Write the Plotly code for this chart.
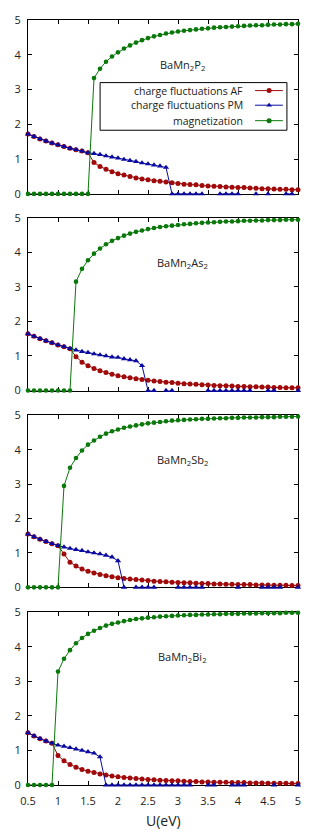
import plotly.graph_objects as go

U = [0.5, 0.6, 0.7, 0.8, 0.9, 1.0, 1.1, 1.2, 1.3, 1.4, 1.5, 1.6, 1.7, 1.8, 1.9, 2.0,
     2.1, 2.2, 2.3, 2.4, 2.5, 2.6, 2.7, 2.8, 2.9, 3.0, 3.1, 3.2, 3.3, 3.4, 3.5, 3.6,
     3.7, 3.8, 3.9, 4.0, 4.1, 4.2, 4.3, 4.4, 4.5, 4.6, 4.7, 4.8, 4.9, 5.0]

N = None

# ---- BaMn2P2 ----
p2_af = [1.72, 1.65, 1.58, 1.52, 1.46, 1.41, 1.36, 1.31, 1.27, 1.23, 1.18, 0.90, 0.79, 0.71, 0.64, 0.58,
         0.54, 0.50, 0.46, 0.43, 0.41, 0.38, 0.36, 0.34, 0.32, 0.30, 0.28, 0.27, 0.26, 0.24, 0.23, 0.22,
         0.21, 0.20, 0.19, 0.18, 0.18, 0.17, 0.16, 0.15, 0.15, 0.14, 0.13, 0.13, 0.12, 0.12]
p2_pm = [1.72, 1.65, 1.58, 1.52, 1.46, 1.41, 1.36, 1.31, 1.27, 1.23, 1.18, 1.16, 1.13, 1.09, 1.06, 1.03,
         0.99, 0.96, 0.93, 0.89, 0.86, 0.83, 0.80, 0.76, 0, 0, 0, 0, 0, 0, N, N,
         0, 0, 0, 0, N, N, 0, N, 0, N, N, 0, 0, N]
p2_mag = [0, 0, 0, 0, 0, 0, 0, 0, 0, 0, 0, 3.33, 3.60, 3.80, 3.95, 4.07,
          4.18, 4.27, 4.35, 4.42, 4.48, 4.53, 4.57, 4.61, 4.64, 4.67, 4.69, 4.71, 4.73, 4.75, 4.76, 4.78,
          4.79, 4.80, 4.81, 4.82, 4.83, 4.84, 4.85, 4.85, 4.86, 4.87, 4.87, 4.88, 4.88, 4.89]

# ---- BaMn2As2 ----
as2_af = [1.64, 1.57, 1.50, 1.44, 1.38, 1.32, 1.27, 1.21, 0.98, 0.82, 0.72, 0.64, 0.57, 0.52, 0.47, 0.43,
          0.40, 0.37, 0.34, 0.32, 0.30, 0.28, 0.26, 0.24, 0.23, 0.21, 0.20, 0.19, 0.18, 0.17, 0.16, 0.15,
          0.14, 0.14, 0.13, 0.12, 0.12, 0.11, 0.11, 0.10, 0.10, 0.09, 0.09, 0.08, 0.08, 0.08]
as2_pm = [1.64, 1.57, 1.50, 1.44, 1.38, 1.32, 1.27, 1.21, 1.17, 1.13, 1.10, 1.06, 1.03, 1.00, 0.97, 0.96,
          0.92, 0.89, 0.86, 0.72, 0, 0, N, 0, 0, N, N, N, N, N, 0, 0,
          0, 0, 0, 0, 0, 0, N, N, 0, 0, N, N, N, 0]
as2_mag = [0, 0, 0, 0, 0, 0, 0, 0, 3.15, 3.52, 3.77, 3.96, 4.11, 4.23, 4.33, 4.41,
           4.48, 4.54, 4.59, 4.63, 4.67, 4.70, 4.73, 4.75, 4.77, 4.79, 4.81, 4.82, 4.84, 4.85, 4.86, 4.87,
           4.88, 4.89, 4.89, 4.90, 4.91, 4.91, 4.92, 4.92, 4.93, 4.93, 4.93, 4.94, 4.94, 4.94]

# ---- BaMn2Sb2 ----
sb2_af = [1.55, 1.47, 1.40, 1.33, 1.27, 1.21, 0.97, 0.73, 0.62, 0.53, 0.47, 0.42, 0.37, 0.34, 0.31, 0.28,
          0.26, 0.24, 0.23, 0.21, 0.20, 0.18, 0.17, 0.16, 0.15, 0.14, 0.13, 0.13, 0.12, 0.11, 0.11, 0.10,
          0.10, 0.09, 0.09, 0.08, 0.08, 0.08, 0.07, 0.07, 0.07, 0.06, 0.06, 0.06, 0.05, 0.05]
sb2_pm = [1.55, 1.47, 1.40, 1.33, 1.27, 1.21, 1.17, 1.13, 1.10, 1.07, 1.03, 1.00, 0.97, 0.93, 0.88, 0.77,
          0, N, 0, 0, 0, 0, N, N, N, 0, 0, 0, 0, 0, N, N,
          N, N, N, 0, N, N, N, 0, 0, 0, 0, N, N, 0]
sb2_mag = [0, 0, 0, 0, 0, 0, 2.95, 3.48, 3.76, 3.98, 4.15, 4.27, 4.38, 4.47, 4.54, 4.59,
           4.64, 4.68, 4.71, 4.74, 4.77, 4.79, 4.81, 4.83, 4.85, 4.86, 4.87, 4.88, 4.89, 4.90, 4.90, 4.91,
           4.92, 4.92, 4.93, 4.93, 4.94, 4.94, 4.94, 4.95, 4.95, 4.95, 4.96, 4.96, 4.96, 4.97]

# ---- BaMn2Bi2 ----
bi2_af = [1.51, 1.42, 1.34, 1.27, 1.21, 0.85, 0.70, 0.59, 0.51, 0.45, 0.40, 0.36, 0.32, 0.29, 0.26, 0.24,
          0.22, 0.20, 0.19, 0.17, 0.16, 0.15, 0.14, 0.13, 0.12, 0.12, 0.11, 0.10, 0.10, 0.09, 0.09, 0.08,
          0.08, 0.08, 0.07, 0.07, 0.07, 0.06, 0.06, 0.06, 0.05, 0.05, 0.05, 0.05, 0.04, 0.04]
bi2_pm = [1.51, 1.42, 1.34, 1.27, 1.21, 1.15, 1.12, 1.08, 1.04, 1.00, 0.96, 0.92, 0.81, 0, 0, 0,
          0, 0, 0, 0, 0, 0, 0, 0, 0, 0, 0, 0, N, N, 0, 0,
          N, N, 0, 0, 0, N, N, N, N, 0, N, N, N, 0]
bi2_mag = [0, 0, 0, 0, 0, 3.28, 3.65, 3.90, 4.10, 4.25, 4.37, 4.46, 4.54, 4.61, 4.66, 4.70,
           4.74, 4.77, 4.80, 4.82, 4.84, 4.85, 4.87, 4.88, 4.89, 4.90, 4.91, 4.92, 4.92, 4.93, 4.93, 4.94,
           4.94, 4.95, 4.95, 4.95, 4.96, 4.96, 4.96, 4.97, 4.97, 4.97, 4.97, 4.98, 4.98, 4.98]

compounds = ["BaMn<sub>2</sub>P<sub>2</sub>", "BaMn<sub>2</sub>As<sub>2</sub>",
             "BaMn<sub>2</sub>Sb<sub>2</sub>", "BaMn<sub>2</sub>Bi<sub>2</sub>"]
series_af = [p2_af, as2_af, sb2_af, bi2_af]
series_pm = [p2_pm, as2_pm, sb2_pm, bi2_pm]
series_mag = [p2_mag, as2_mag, sb2_mag, bi2_mag]
series_names = ["charge fluctuations AF", "charge fluctuations PM", "magnetization"]

x_ticks = [0.5, 1, 1.5, 2, 2.5, 3, 3.5, 4, 4.5, 5]
x_ticktext = ["0.5", "1", "1.5", "2", "2.5", "3", "3.5", "4", "4.5", "5"]
y_ticks = [0, 1, 2, 3, 4, 5]

C_AF = "#a00a0a"
C_PM = "#0a0aa0"
C_MAG = "#0a780a"
FONT = "Open Sans"

# panel vertical domains (paper fractions)
domains = [[0.7727, 1.0], [0.5156, 0.7416], [0.2584, 0.4831], [0.0, 0.2260]]

fig = go.Figure()

for k in range(4):
    xa = "x" if k == 0 else f"x{k+1}"
    ya = "y" if k == 0 else f"y{k+1}"
    fig.add_trace(go.Scatter(x=U, y=series_af[k], mode="lines+markers", xaxis=xa, yaxis=ya,
                             line=dict(color=C_AF, width=1), marker=dict(symbol="circle", size=5, color=C_AF),
                             cliponaxis=False, showlegend=False, connectgaps=False))
    fig.add_trace(go.Scatter(x=U, y=series_pm[k], mode="lines+markers", xaxis=xa, yaxis=ya,
                             line=dict(color=C_PM, width=1), marker=dict(symbol="triangle-up", size=5.5, color=C_PM),
                             cliponaxis=False, showlegend=False, connectgaps=False))
    fig.add_trace(go.Scatter(x=U, y=series_mag[k], mode="lines+markers", xaxis=xa, yaxis=ya,
                             line=dict(color=C_MAG, width=1), marker=dict(symbol="circle", size=4.6, color=C_MAG),
                             cliponaxis=False, showlegend=False, connectgaps=False))

axis_common = dict(showline=True, linecolor="black", linewidth=1, mirror="ticks",
                   ticks="inside", ticklen=4, tickwidth=1, tickcolor="black",
                   showgrid=False, zeroline=False, layer="below traces",
                   tickfont=dict(family=FONT, size=11, color="#222222"))

layout = dict(width=317, height=833, plot_bgcolor="white", paper_bgcolor="white",
              margin=dict(l=28, r=19, t=15, b=48), showlegend=False,
              font=dict(family=FONT, size=10, color="#222222"))

for k in range(4):
    xkey = "xaxis" if k == 0 else f"xaxis{k+1}"
    ykey = "yaxis" if k == 0 else f"yaxis{k+1}"
    yanchor = "y" if k == 0 else f"y{k+1}"
    xanchor = "x" if k == 0 else f"x{k+1}"
    layout[xkey] = dict(axis_common, range=[0.5, 5], tickvals=x_ticks, ticktext=x_ticktext,
                        showticklabels=(k == 3), anchor=yanchor, domain=[0, 1], ticklabelstandoff=6)
    layout[ykey] = dict(axis_common, range=[0, 5], tickvals=y_ticks, anchor=xanchor,
                        domain=domains[k], ticklabelstandoff=4)

# overlay axes for legend samples on the top panel
layout["xaxis5"] = dict(overlaying="x", range=[0, 1], visible=False, anchor="y5", domain=[0, 1])
layout["yaxis5"] = dict(overlaying="y", range=[0, 1], visible=False, anchor="x5", domain=domains[0])

fig.update_layout(**layout)

annotations = []
for k in range(4):
    xa = "x" if k == 0 else f"x{k+1}"
    ya = "y" if k == 0 else f"y{k+1}"
    annotations.append(dict(x=3.07, y=3.7, xref=xa, yref=ya, text=compounds[k], showarrow=False,
                            font=dict(family=FONT, size=11, color="#222222")))

annotations.append(dict(x=0.5, y=-0.047, xref="paper", yref="paper", text="U(eV)", showarrow=False,
                        yanchor="middle", font=dict(family=FONT, size=14, color="#222222")))

# legend (gnuplot style: text right-aligned, sample on the right)
leg_y = [0.594, 0.510, 0.421]
leg_colors = [C_AF, C_PM, C_MAG]
leg_symbols = ["circle", "triangle-up", "circle"]
shapes = [dict(type="rect", xref="x domain", yref="y domain", x0=0.267, x1=0.959, y0=0.366, y1=0.64,
               line=dict(color="black", width=1), fillcolor="white", layer="below")]
for name, yy, col, sym in zip(series_names, leg_y, leg_colors, leg_symbols):
    annotations.append(dict(x=0.804, y=yy, xref="x domain", yref="y domain", text=name, showarrow=False,
                            xanchor="right", yanchor="middle",
                            font=dict(family=FONT, size=10.5, color="#222222")))
    shapes.append(dict(type="line", xref="x domain", yref="y domain", x0=0.841, x1=0.944, y0=yy, y1=yy,
                       line=dict(color=col, width=1), layer="below"))
    fig.add_trace(go.Scatter(x=[0.893], y=[yy], xaxis="x5", yaxis="y5", mode="markers",
                             marker=dict(symbol=sym, size=5, color=col), showlegend=False,
                             cliponaxis=False, hoverinfo="skip"))

fig.update_layout(annotations=annotations, shapes=shapes)

fig.write_html("out.html", config={"displayModeBar": False},
               post_script="document.body.style.margin='0px';document.body.style.padding='0px';")
